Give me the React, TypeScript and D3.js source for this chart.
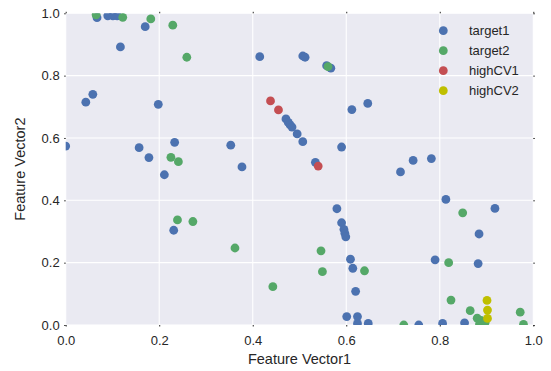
import { useEffect, useRef } from 'react';
import * as d3 from 'd3';

// [Feature Vector1, Feature Vector2]
const target1 = [
  [0.067, 0.986], [0.09, 0.992], [0.101, 0.992], [0.11, 0.992], [0.17, 0.957],
  [0.117, 0.892], [0.415, 0.861], [0.043, 0.715], [0.058, 0.74], [0.198, 0.708],
  [0.0, 0.574], [0.157, 0.569], [0.178, 0.537], [0.233, 0.586], [0.211, 0.482],
  [0.353, 0.577], [0.377, 0.507], [0.507, 0.863], [0.512, 0.859], [0.558, 0.832],
  [0.567, 0.824], [0.471, 0.661], [0.476, 0.65], [0.48, 0.642], [0.484, 0.635],
  [0.495, 0.613], [0.507, 0.588], [0.534, 0.522], [0.59, 0.571], [0.612, 0.691],
  [0.646, 0.711], [0.716, 0.491], [0.743, 0.528], [0.782, 0.534], [0.231, 0.304],
  [0.813, 0.403], [0.918, 0.374], [0.58, 0.373], [0.59, 0.328], [0.595, 0.307],
  [0.597, 0.294], [0.599, 0.283], [0.884, 0.292], [0.609, 0.211], [0.614, 0.182],
  [0.79, 0.209], [0.882, 0.197], [0.62, 0.108], [0.601, 0.027], [0.624, 0.027],
  [0.624, 0.005], [0.647, 0.005], [0.755, 0.0], [0.806, 0.005], [0.853, 0.007],
];

const target2 = [
  [0.065, 0.995], [0.122, 0.987], [0.182, 0.982], [0.229, 0.962], [0.259, 0.859],
  [0.225, 0.538], [0.241, 0.524], [0.561, 0.829], [0.239, 0.337], [0.272, 0.332],
  [0.362, 0.247], [0.443, 0.123], [0.849, 0.36], [0.546, 0.238], [0.639, 0.174],
  [0.549, 0.171], [0.819, 0.2], [0.824, 0.08], [0.865, 0.046], [0.972, 0.041],
  [0.723, 0.0], [0.979, 0.002], [0.88, 0.022], [0.888, 0.015], [0.885, 0.003],
  [0.897, 0.008],
];

const highCV1 = [[0.438, 0.719], [0.455, 0.69], [0.54, 0.51]];

const highCV2 = [[0.901, 0.079], [0.902, 0.048], [0.902, 0.021]];

const seriesNames = ['target1', 'target2', 'highCV1', 'highCV2'];
const seriesColors = ['#4C72B0', '#55A868', '#C44E52', '#BFBF00'];
const ticks = [0, 0.2, 0.4, 0.6, 0.8, 1.0];

const ScatterChart = () => {
  const svgRef = useRef(null);

  useEffect(() => {
    const width = 551;
    const height = 371;
    const marginTop = 13.3;
    const marginRight = 17.7;
    const marginBottom = 46;
    const marginLeft = 65.7;
    const textColor = '#262626';
    const font = '"Liberation Sans", Arial, sans-serif';

    const x = d3.scaleLinear().domain([0, 1]).range([marginLeft, width - marginRight]);
    const y = d3.scaleLinear().domain([0, 1]).range([height - marginBottom, marginTop]);

    const svg = d3.select(svgRef.current);
    svg.selectAll('*').remove();
    svg.attr('viewBox', [0, 0, width, height]).attr('font-family', font);

    svg.append('defs')
      .append('clipPath')
      .attr('id', 'plot-clip')
      .append('rect')
      .attr('x', marginLeft)
      .attr('y', marginTop)
      .attr('width', width - marginLeft - marginRight)
      .attr('height', height - marginTop - marginBottom);

    // background
    svg.append('rect')
      .attr('x', marginLeft)
      .attr('y', marginTop)
      .attr('width', width - marginLeft - marginRight)
      .attr('height', height - marginTop - marginBottom)
      .attr('fill', '#EAEAF2');

    // grid
    const grid = svg.append('g').attr('stroke', '#fff').attr('stroke-width', 1.1);
    grid.selectAll('.vx')
      .data(ticks)
      .join('line')
      .attr('x1', (d) => x(d))
      .attr('x2', (d) => x(d))
      .attr('y1', marginTop)
      .attr('y2', height - marginBottom);
    grid.selectAll('.hy')
      .data(ticks)
      .join('line')
      .attr('y1', (d) => y(d))
      .attr('y2', (d) => y(d))
      .attr('x1', marginLeft)
      .attr('x2', width - marginRight);

    // axes (tiny tick marks only, like matplotlib darkgrid)
    const fmt = d3.format('.1f');
    svg.append('g')
      .attr('transform', `translate(0,${height - marginBottom})`)
      .call(d3.axisBottom(x).tickValues(ticks).tickFormat(fmt).tickSize(1.5).tickPadding(9))
      .call((g) => g.select('.domain').remove())
      .call((g) => g.selectAll('.tick line').attr('stroke', textColor))
      .call((g) => g.selectAll('.tick text').attr('fill', textColor).attr('font-size', 13));

    svg.append('g')
      .attr('transform', `translate(${marginLeft},0)`)
      .call(d3.axisLeft(y).tickValues(ticks).tickFormat(fmt).tickSize(1.5).tickPadding(4.5))
      .call((g) => g.select('.domain').remove())
      .call((g) => g.selectAll('.tick line').attr('stroke', textColor))
      .call((g) => g.selectAll('.tick text').attr('fill', textColor).attr('font-size', 13));

    svg.append('g')
      .attr('transform', `translate(0,${marginTop})`)
      .call(d3.axisTop(x).tickValues(ticks).tickFormat(() => '').tickSize(1.5))
      .call((g) => g.select('.domain').remove())
      .call((g) => g.selectAll('.tick line').attr('stroke', textColor));

    svg.append('g')
      .attr('transform', `translate(${width - marginRight},0)`)
      .call(d3.axisRight(y).tickValues(ticks).tickFormat(() => '').tickSize(1.5))
      .call((g) => g.select('.domain').remove())
      .call((g) => g.selectAll('.tick line').attr('stroke', textColor));

    // axis titles
    svg.append('text')
      .attr('x', (marginLeft + width - marginRight) / 2)
      .attr('y', 364)
      .attr('text-anchor', 'middle')
      .attr('font-size', 14.5)
      .attr('fill', textColor)
      .text('Feature Vector1');

    svg.append('text')
      .attr('transform', `translate(25,${(marginTop + height - marginBottom) / 2}) rotate(-90)`)
      .attr('text-anchor', 'middle')
      .attr('font-size', 14.5)
      .attr('fill', textColor)
      .text('Feature Vector2');

    // points
    const allSeries = [target1, target2, highCV1, highCV2];
    const dots = svg.append('g').attr('clip-path', 'url(#plot-clip)');
    allSeries.forEach((pts, i) => {
      dots.append('g')
        .attr('fill', seriesColors[i])
        .selectAll('circle')
        .data(pts)
        .join('circle')
        .attr('cx', (d) => x(d[0]))
        .attr('cy', (d) => y(d[1]))
        .attr('r', 4.4);
    });

    // legend
    const legend = svg.append('g').attr('transform', 'translate(443.3,30.7)');
    const item = legend.selectAll('g')
      .data(seriesNames)
      .join('g')
      .attr('transform', (d, i) => `translate(0,${i * 20})`);
    item.append('circle')
      .attr('r', 4.4)
      .attr('fill', (d, i) => seriesColors[i]);
    item.append('text')
      .attr('x', 25.7)
      .attr('dy', '0.35em')
      .attr('font-size', 13)
      .attr('fill', textColor)
      .text((d) => d);
  }, []);

  return (
    <svg
      ref={svgRef}
      width={551}
      height={371}
      style={{ position: 'absolute', left: 0, top: 0, background: '#fff' }}
    ></svg>
  );
};

export default function App() {
  return <ScatterChart />;
}
